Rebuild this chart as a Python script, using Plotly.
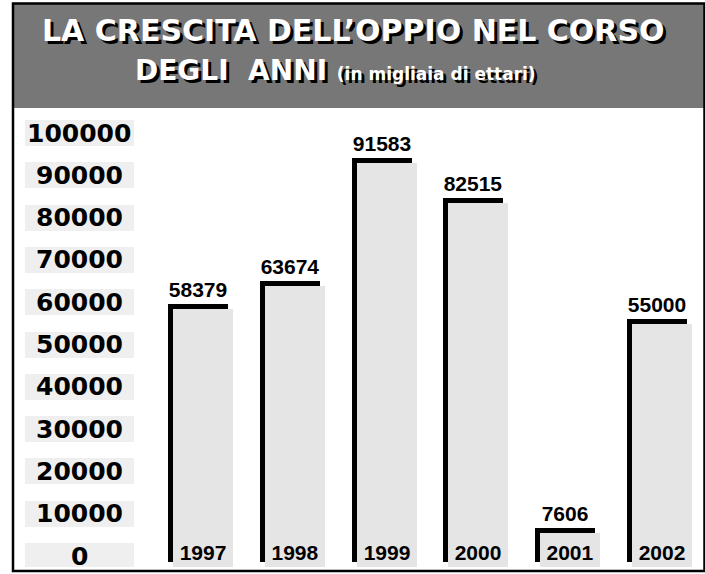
import plotly.graph_objects as go

# ---------------- data ----------------
years = [1997, 1998, 1999, 2000, 2001, 2002]
values = [58379, 63674, 91583, 82515, 7606, 55000]
year_labels = ["1997", "1998", "1999", "2000", "2001", "2002"]
value_labels = ["58379", "63674", "91583", "82515", "7606", "55000"]
tick_values = [0, 10000, 20000, 30000, 40000, 50000, 60000, 70000, 80000, 90000, 100000]
tick_labels = ["0", "10000", "20000", "30000", "40000", "50000",
               "60000", "70000", "80000", "90000", "100000"]
title_line1 = "LA CRESCITA DELL’OPPIO NEL CORSO"
title_line2_big = "DEGLI\u00a0\u00a0ANNI"
title_line2_small = "(in migliaia di ettari)"

# ---------------- layout geometry ----------------
W, H = 705, 574
MT, MB = 112, 7
PLOT_H = H - MT - MB


def px_x(p):
    return p / W


def px_y(p):
    return (H - MB - p) / PLOT_H


bar_px_per_unit = 4.412 / 1000.0
y_range = [0, PLOT_H / bar_px_per_unit]
shadow_shift = 5 / bar_px_per_unit          # 5 px in value units
year_px = 91.8
x_range = [1997 - 203 / year_px, 2002 + (W - 662) / year_px]
bar_w = 60 / year_px
shadow_offset = -bar_w / 2 - 5 / year_px

tick_px_per_unit = 4.23 / 1000.0
y2_range = [-(H - MB - 556) / tick_px_per_unit,
            100000 + (133 - MT) / tick_px_per_unit]
box_h = 26 / tick_px_per_unit

fig = go.Figure()

# black "shadow" bars (top/left border effect)
fig.add_trace(go.Bar(
    x=years, y=values, base=shadow_shift, width=bar_w, offset=shadow_offset,
    marker=dict(color="black", line=dict(width=0)),
    text=value_labels, textposition="outside", cliponaxis=False,
    textfont=dict(family="Liberation Sans", size=21, color="black", weight="bold"),
    hoverinfo="skip", showlegend=False,
))

# light grey bars
fig.add_trace(go.Bar(
    x=years, y=values, width=bar_w,
    marker=dict(color="#e5e5e5", line=dict(width=0)),
    text=year_labels, textposition="inside", insidetextanchor="start",
    textangle=0, constraintext="none",
    textfont=dict(family="Liberation Sans", size=21, color="black", weight="bold"),
    hoverinfo="skip", showlegend=False,
))

# grey boxes behind tick labels
fig.add_trace(go.Bar(
    x=[1] * len(tick_values), y=tick_values, orientation="h", width=box_h,
    marker=dict(color="#efefef", line=dict(width=0)),
    xaxis="x2", yaxis="y2", hoverinfo="skip", showlegend=False,
))

annotations = []
for tv, tl in zip(tick_values, tick_labels):
    annotations.append(dict(
        x=px_x(79), xref="paper", y=tv, yref="y2", text=tl, showarrow=False,
        xanchor="center", yanchor="middle",
        font=dict(family="DejaVu Sans", size=25, color="black", weight="bold"),
    ))

title_font1 = dict(family="DejaVu Sans", size=30, color="white", weight="bold",
                   shadow="3px 3px 0px #000000")
title_font2 = dict(family="DejaVu Sans", size=28, color="white", weight="bold",
                   shadow="3px 3px 0px #000000")
annotations.append(dict(
    x=px_x(354), xref="paper", y=px_y(31), yref="paper", text=title_line1,
    showarrow=False, xanchor="center", yanchor="middle", font=title_font1,
))
annotations.append(dict(
    x=px_x(133), xref="paper", y=px_y(70), yref="paper",
    text=title_line2_big + "\u00a0<span style='font-size:17px'>" + title_line2_small + "</span>",
    showarrow=False, xanchor="left", yanchor="middle", font=title_font2,
))

shapes = [
    # header band
    dict(type="rect", xref="paper", yref="paper",
         x0=px_x(13), x1=px_x(704), y0=px_y(108), y1=px_y(4),
         fillcolor="#777777", line=dict(width=0), layer="below"),
    # outer frame
    dict(type="rect", xref="paper", yref="paper",
         x0=px_x(13), x1=px_x(704.5), y0=px_y(571), y1=px_y(3.5),
         fillcolor="rgba(0,0,0,0)", line=dict(color="black", width=2.5)),
]

fig.update_layout(
    width=W, height=H,
    margin=dict(l=0, r=0, t=MT, b=MB, pad=0),
    paper_bgcolor="white", plot_bgcolor="white",
    barmode="overlay", bargap=0,
    showlegend=False,
    xaxis=dict(domain=[0, 1], range=x_range, showgrid=False, zeroline=False,
               showticklabels=False, ticks="", showline=False, fixedrange=True),
    yaxis=dict(domain=[0, 1], range=y_range, showgrid=False, zeroline=False,
               showticklabels=False, ticks="", showline=False, fixedrange=True),
    xaxis2=dict(domain=[px_x(25), px_x(134)], range=[0, 1], anchor="y2",
                showgrid=False, zeroline=False, showticklabels=False,
                ticks="", showline=False, fixedrange=True),
    yaxis2=dict(domain=[0, 1], range=y2_range, anchor="x2",
                showgrid=False, zeroline=False, showticklabels=False,
                ticks="", showline=False, fixedrange=True),
    annotations=annotations,
    shapes=shapes,
)

fig.write_html("out.html")
